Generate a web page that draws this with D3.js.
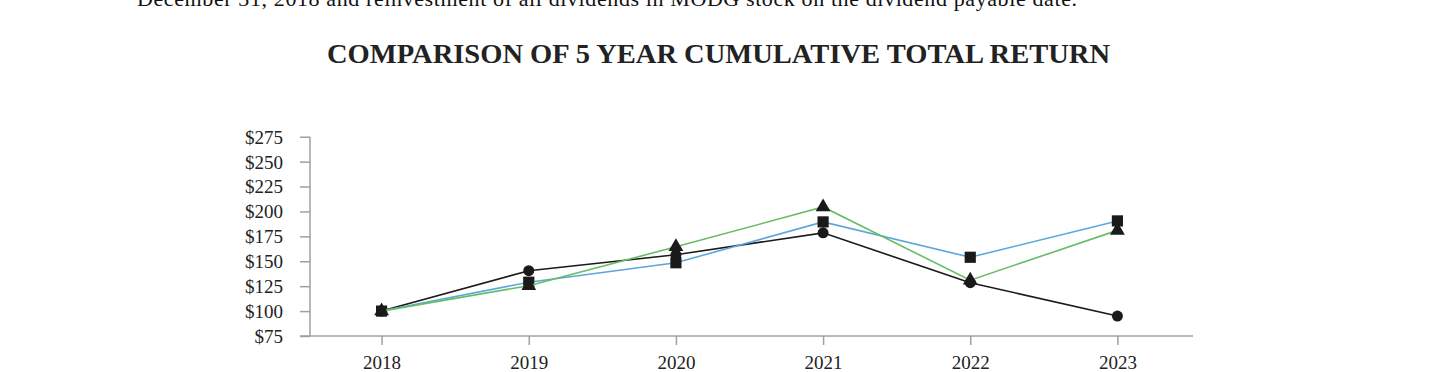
<!DOCTYPE html>
<html><head><meta charset="utf-8">
<script src="https://cdn.jsdelivr.net/npm/d3@7"></script>
<style>html,body{margin:0;padding:0;background:#fff;overflow:hidden}</style>
</head><body>
<svg id="chart" width="1440" height="372"></svg>
<script>
const years = ["2018","2019","2020","2021","2022","2023"];
const modg = [100, 140.5, 156.5, 178.5, 128.5, 95];
const indexA = [100, 129, 148.5, 189.5, 154, 190.5];
const indexB = [100, 125.5, 164.5, 204.5, 131, 181];
const yTicks = [75, 100, 125, 150, 175, 200, 225, 250, 275];

const svg = d3.select("#chart");
const serif = "'Liberation Serif','Times New Roman',serif";

svg.append("text").attr("x", 137).attr("y", 6)
  .attr("font-family", serif).attr("font-size", 22).attr("fill", "#111")
  .attr("textLength", 940)
  .text("December 31, 2018 and reinvestment of all dividends in MODG stock on the dividend payable date.");

svg.append("text").attr("x", 327).attr("y", 63)
  .attr("font-family", serif).attr("font-size", 28).attr("font-weight", "bold").attr("fill", "#222")
  .attr("textLength", 783).attr("lengthAdjust", "spacingAndGlyphs")
  .text("COMPARISON OF 5 YEAR CUMULATIVE TOTAL RETURN");

const x = d3.scalePoint().domain(years).range([308, 1191]).padding(0.5);
const y = d3.scaleLinear().domain([75, 275]).range([336, 136.7]);

const axisColor = "#a0a0a0";
const yAxis = svg.append("g").attr("transform", "translate(310,0)")
  .call(d3.axisLeft(y).tickValues(yTicks).tickSize(10).tickPadding(17).tickFormat(d => "$" + d));
const xAxis = svg.append("g").attr("transform", "translate(0,336)")
  .call(d3.axisBottom(x).tickSize(9).tickPadding(11));
xAxis.select(".domain").attr("d", "M300,0H1193");
yAxis.select(".domain").attr("d", "M0,336V136.7");
[xAxis, yAxis].forEach(g => {
  g.selectAll(".domain, .tick line").attr("stroke", axisColor).attr("stroke-width", 1.5);
  g.selectAll("text").attr("font-family", serif).attr("font-size", 19).attr("fill", "#222");
});
yAxis.selectAll(".tick text").attr("dy", "0.34em");

const series = [
  {vals: modg, color: "#1a1a1a", shape: d3.symbolCircle, size: 95},
  {vals: indexA, color: "#5ba7dc", shape: d3.symbolSquare, size: 125},
  {vals: indexB, color: "#67bd66", shape: d3.symbolTriangle, size: 95}
];
const line = d3.line().x((d, i) => x(years[i])).y(d => y(d));
series.forEach(s => {
  svg.append("path").datum(s.vals).attr("d", line)
    .attr("fill", "none").attr("stroke", s.color).attr("stroke-width", 1.6);
  svg.append("g").selectAll("path").data(s.vals).join("path")
    .attr("d", d3.symbol().type(s.shape).size(s.size))
    .attr("transform", (d, i) => `translate(${x(years[i])},${y(d)})`)
    .attr("fill", "#1a1a1a");
});
</script>
</body></html>
